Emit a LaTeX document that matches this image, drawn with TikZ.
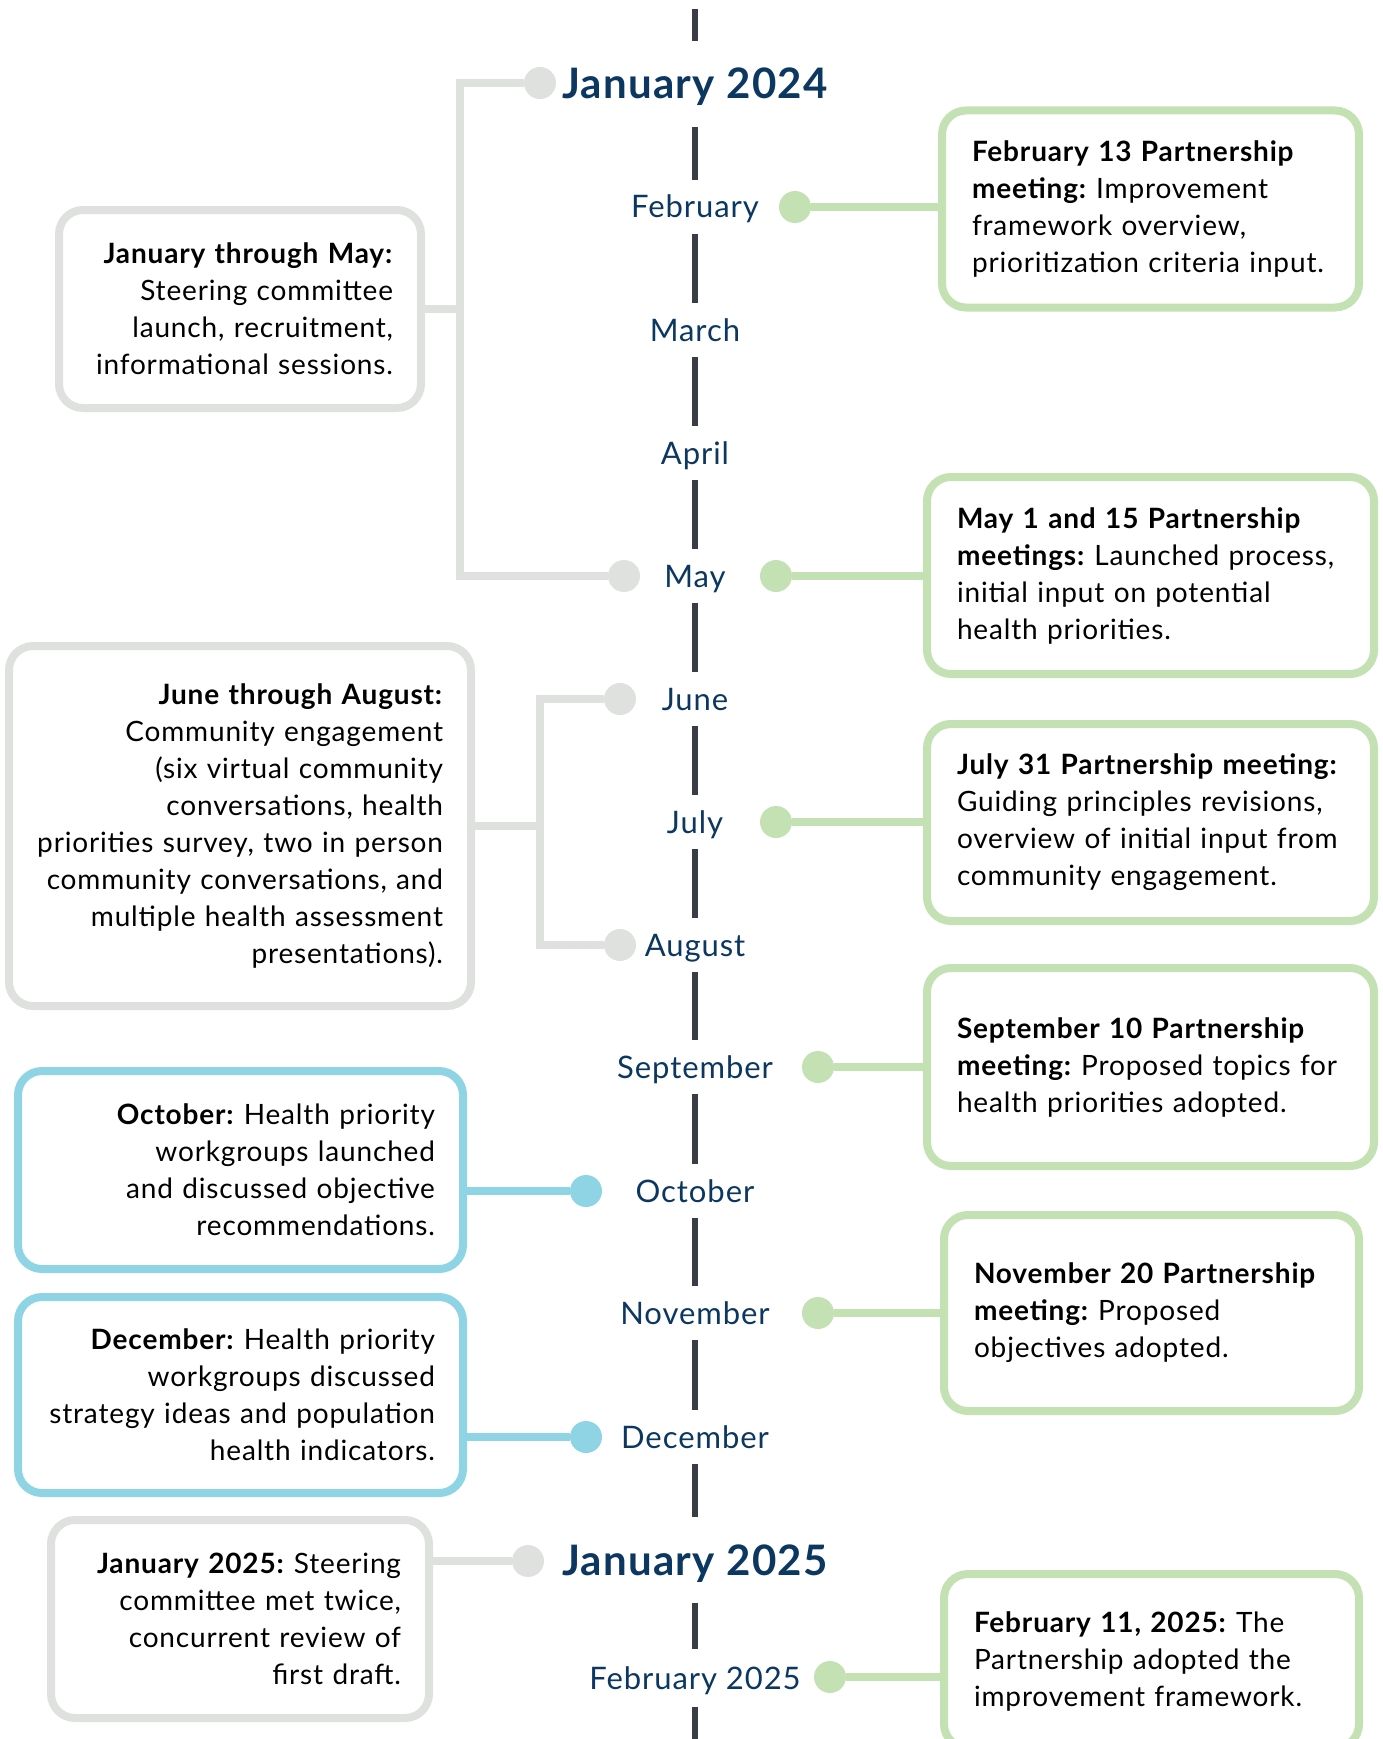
\documentclass[tikz,border=0pt]{standalone}
\usepackage{fontspec}
\setmainfont{Lato}[LetterSpace=3]
\frenchspacing
\usetikzlibrary{calc}

\definecolor{tlnavy}{RGB}{12,55,97}
\definecolor{tldash}{RGB}{58,60,70}
\definecolor{tlgrey}{RGB}{223,225,223}
\definecolor{tlgreen}{RGB}{195,225,179}
\definecolor{tlblue}{RGB}{143,212,228}

\begin{document}
\begin{tikzpicture}[%
    x=1pt, y=-1pt,
    month/.style={inner sep=0pt, minimum height=54pt, text=tlnavy,
                  text height=24pt, text depth=2pt,
                  font=\fontsize{31}{36}\selectfont},
    year/.style={month, minimum height=86pt, text height=32pt, text depth=2pt,
                 font=\fontsize{42}{48}\selectfont\bfseries},
    tick/.style={draw=tldash, line width=6pt},
    dot/.style={circle, inner sep=0pt, minimum size=32pt},
    note/.style={rounded corners=24pt, line width=8pt, fill=white,
                 inner ysep=0pt, font=\fontsize{28}{37}\selectfont},
    rnote/.style={note, draw=tlgreen, align=left, inner xsep=30pt},
    lnote/.style={note, align=right, inner xsep=28pt},
    link/.style={line width=8pt}
  ]
  \useasboundingbox (0,0) rectangle (1382,1739);

  % the months down the middle
  \node[year]  (jan24) at (695,84)   {January 2024};
  \node[month] (feb)   at (695,207)  {February};
  \node[month] (mar)   at (695,330)  {March};
  \node[month] (apr)   at (695,453)  {April};
  \node[month] (may)   at (695,576)  {May};
  \node[month] (jun)   at (695,699)  {June};
  \node[month] (jul)   at (695,822)  {July};
  \node[month] (aug)   at (695,945)  {August};
  \node[month] (sep)   at (695,1067) {September};
  \node[month] (oct)   at (695,1191) {October};
  \node[month] (nov)   at (695,1313) {November};
  \node[month] (dec)   at (695,1437) {December};
  \node[year]  (jan25) at (695,1560) {January 2025};
  \node[month, minimum height=57pt] (feb25) at (695,1678) {February 2025};

  \coordinate (top)    at (695,9);
  \coordinate (bottom) at (695,1739);

  \draw[tick] (top) -- (jan24.north);
  \foreach \a/\b in {jan24/feb, feb/mar, mar/apr, apr/may, may/jun, jun/jul,
                     jul/aug, aug/sep, sep/oct, oct/nov, nov/dec, dec/jan25,
                     jan25/feb25}
    \draw[tick] (\a.south) -- (\b.north);
  \draw[tick] (feb25.south) -- (bottom);

  % dots
  \node[dot, fill=tlgrey]  (djan24) at (540,83)   {};
  \node[dot, fill=tlgrey]  (dmayg)  at (624,576)  {};
  \node[dot, fill=tlgrey]  (djun)   at (620,699)  {};
  \node[dot, fill=tlgrey]  (daug)   at (620,945)  {};
  \node[dot, fill=tlblue]  (doct)   at (586,1191) {};
  \node[dot, fill=tlblue]  (ddec)   at (586,1437) {};
  \node[dot, fill=tlgrey]  (djan25) at (528,1561) {};
  \node[dot, fill=tlgreen] (dfeb)   at (795,207)  {};
  \node[dot, fill=tlgreen] (dmay)   at (776,576)  {};
  \node[dot, fill=tlgreen] (djul)   at (776,822)  {};
  \node[dot, fill=tlgreen] (dsep)   at (818,1067) {};
  \node[dot, fill=tlgreen] (dnov)   at (818,1313) {};
  \node[dot, fill=tlgreen] (dfeb25) at (830,1677) {};

  % partnership meetings, right
  \node[rnote, minimum height=197pt, text width=357pt] (bfeb) at (1150.5,209)
    {\textbf{February 13 Partnership}\\ \textbf{meeting:} Improvement\\
     framework overview,\\ prioritization criteria input.};
  \node[rnote, minimum height=197pt, text width=387pt] (bmay) at (1150.5,575.5)
    {\textbf{May 1 and 15 Partnership}\\ \textbf{meetings:} Launched process,\\
     initial input on potential\\ health priorities.};
  \node[rnote, minimum height=197pt, text width=387pt] (bjul) at (1150.5,822.5)
    {\textbf{July 31 Partnership meeting:}\\ Guiding principles revisions,\\
     overview of initial input from\\ community engagement.};
  \node[rnote, minimum height=198pt, text width=387pt] (bsep) at (1150.5,1067)
    {\textbf{September 10 Partnership}\\ \textbf{meeting:} Proposed topics for\\
     health priorities adopted.};
  \node[rnote, minimum height=196pt, text width=355pt] (bnov) at (1151.5,1313)
    {\textbf{November 20 Partnership}\\ \textbf{meeting:} Proposed\\
     objectives adopted.};
  \node[rnote, minimum height=174pt, text width=355pt] (bfeb25) at (1151.5,1661)
    {\textbf{February 11, 2025:} The\\ Partnership adopted the\\
     improvement framework.};

  % steering committee and workgroups, left
  \node[lnote, draw=tlgrey, minimum height=198pt, text width=306pt] (bjanmay) at (240,309)
    {\textbf{January through May:}\\ Steering committee\\ launch, recruitment,\\
     informational sessions.};
  \node[lnote, draw=tlgrey, minimum height=360pt, text width=406pt] (bjunaug) at (240,826)
    {\textbf{June through August:}\\ Community engagement\\ (six virtual community\\
     conversations, health\\ priorities survey, two in person\\
     community conversations, and\\ multiple health assessment\\ presentations).};
  \node[lnote, draw=tlblue, minimum height=198pt, text width=389pt] (boct) at (240.5,1170)
    {\textbf{October:} Health priority\\ workgroups launched\\
     and discussed objective\\ recommendations.};
  \node[lnote, draw=tlblue, minimum height=196pt, text width=389pt] (bdec) at (240.5,1395)
    {\textbf{December:} Health priority\\ workgroups discussed\\
     strategy ideas and population\\ health indicators.};
  \node[lnote, draw=tlgrey, minimum height=198pt, text width=322pt] (bjan25) at (240,1619)
    {\textbf{January 2025:} Steering\\ committee met twice,\\
     concurrent review of\\ first draft.};

  % connectors
  \foreach \d/\b in {dfeb/bfeb, dmay/bmay, djul/bjul, dsep/bsep, dnov/bnov, dfeb25/bfeb25}
    \draw[link, tlgreen] (\d) -- (\d -| \b.west);
  \draw[link, tlblue] (doct) -- (doct -| boct.east);
  \draw[link, tlblue] (ddec) -- (ddec -| bdec.east);
  \draw[link, tlgrey] (djan25) -- (djan25 -| bjan25.east);

  \coordinate (jmbar) at (460,309);
  \draw[link, tlgrey] (djan24) -| (jmbar) |- (dmayg);
  \draw[link, tlgrey] (bjanmay.east) -- (jmbar);

  \coordinate (jabar) at (540,826);
  \draw[link, tlgrey] (djun) -| (jabar) |- (daug);
  \draw[link, tlgrey] (bjunaug.east) -- (jabar);
\end{tikzpicture}
\end{document}
